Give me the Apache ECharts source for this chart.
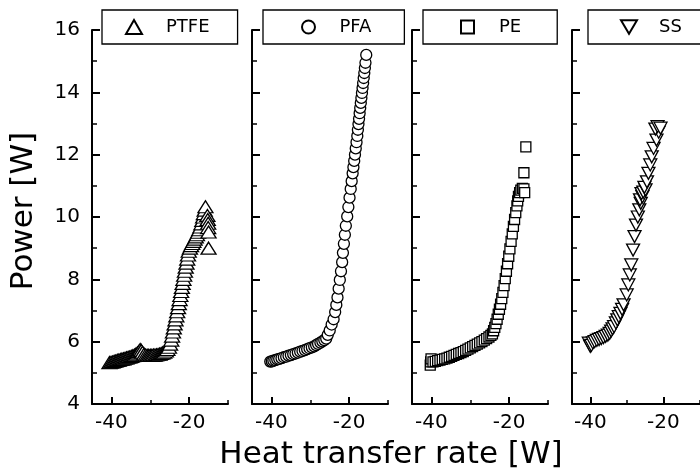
<!DOCTYPE html>
<html><head><meta charset="utf-8">
<script src="https://cdn.jsdelivr.net/npm/echarts@6/dist/echarts.min.js"></script>
<style>html,body{margin:0;padding:0;background:#fff}#c{width:700px;height:473px}</style>
</head><body><div id="c"></div><script>
// ---- data (Heat transfer rate [W], Power [W]) ----
const seriesNames = ['PTFE', 'PFA', 'PE', 'SS'];
const xTickLabels = [-40, -20];
const xMinorTicks = [-30, -10];
const xTitle = 'Heat transfer rate [W]';
const yTitle = 'Power [W]';

const ptfe = [[-40.5,5.33],[-40.1,5.34],[-39.7,5.35],[-39.3,5.37],[-38.9,5.38],[-38.5,5.4],[-38.1,5.41],[-37.7,5.43],[-37.3,5.44],[-36.9,5.45],[-36.5,5.47],[-36.1,5.48],[-35.7,5.5],[-35.3,5.51],[-34.9,5.53],[-34.5,5.55],[-34.1,5.57],[-33.7,5.6],[-33.3,5.64],[-32.9,5.69],[-32.6,5.75],[-32.3,5.72],[-32.0,5.66],[-31.6,5.6],[-31.2,5.57],[-30.8,5.56],[-30.4,5.56],[-30.0,5.56],[-29.6,5.56],[-29.2,5.57],[-28.8,5.57],[-28.4,5.58],[-28.0,5.59],[-27.6,5.6],[-27.2,5.62],[-26.8,5.64],[-26.4,5.66],[-26.0,5.7],[-25.6,5.75],[-25.2,5.82],[-24.9,5.92],[-24.6,6.05],[-24.38,6.18],[-24.16,6.31],[-23.94,6.44],[-23.73,6.57],[-23.51,6.7],[-23.29,6.83],[-23.07,6.96],[-22.85,7.09],[-22.65,7.22],[-22.45,7.35],[-22.26,7.48],[-22.06,7.61],[-21.86,7.74],[-21.67,7.87],[-21.47,8.0],[-21.27,8.13],[-21.08,8.26],[-20.88,8.39],[-20.68,8.52],[-20.49,8.65],[-20.29,8.78],[-20.1,8.9],[-19.8,9.0],[-19.5,9.08],[-19.2,9.15],[-18.9,9.22],[-18.6,9.29],[-18.3,9.36],[-18.0,9.43],[-17.7,9.51],[-17.4,9.59],[-17.1,9.68],[-16.85,9.78],[-16.6,9.89],[-16.4,10.0],[-16.2,10.11],[-16.0,10.22],[-15.8,10.33],[-15.3,10.05],[-15.2,9.92],[-15.1,9.8],[-15.1,9.66],[-15.0,9.52],[-15.0,9.0]];

const pfa = [[-40.3,5.36],[-39.9,5.37],[-39.5,5.39],[-39.0,5.41],[-38.5,5.43],[-38.0,5.45],[-37.4,5.47],[-36.8,5.5],[-36.2,5.52],[-35.6,5.55],[-35.0,5.57],[-34.4,5.6],[-33.8,5.62],[-33.2,5.65],[-32.6,5.68],[-32.0,5.7],[-31.4,5.73],[-30.8,5.76],[-30.2,5.79],[-29.6,5.82],[-29.0,5.85],[-28.5,5.89],[-28.0,5.93],[-27.4,5.97],[-26.9,6.01],[-26.4,6.05],[-25.9,6.1],[-25.5,6.22],[-25.0,6.36],[-24.5,6.55],[-24.0,6.72],[-23.6,6.95],[-23.3,7.18],[-23.0,7.42],[-22.7,7.7],[-22.4,7.98],[-22.1,8.26],[-21.8,8.55],[-21.6,8.85],[-21.35,9.14],[-21.1,9.43],[-20.85,9.72],[-20.5,10.02],[-20.2,10.32],[-19.9,10.62],[-19.6,10.9],[-19.35,11.15],[-19.1,11.4],[-18.9,11.6],[-18.7,11.8],[-18.5,12.0],[-18.3,12.2],[-18.1,12.4],[-17.9,12.6],[-17.75,12.8],[-17.6,12.98],[-17.45,13.15],[-17.3,13.33],[-17.15,13.5],[-17.0,13.66],[-16.85,13.82],[-16.7,13.98],[-16.55,14.14],[-16.4,14.3],[-16.25,14.46],[-16.1,14.62],[-15.95,14.78],[-15.8,14.95],[-15.6,15.2]];

const pe = [[-40.3,5.25],[-40.2,5.35],[-40.1,5.45],[-39.6,5.35],[-39.0,5.37],[-38.4,5.39],[-37.8,5.41],[-37.2,5.43],[-36.6,5.45],[-36.0,5.47],[-35.4,5.5],[-34.8,5.53],[-34.2,5.56],[-33.6,5.59],[-33.0,5.62],[-32.4,5.65],[-31.8,5.68],[-31.2,5.72],[-30.6,5.76],[-30.0,5.8],[-29.4,5.84],[-28.8,5.88],[-28.2,5.92],[-27.6,5.96],[-27.0,6.0],[-26.4,6.05],[-25.8,6.1],[-25.2,6.15],[-24.7,6.2],[-24.3,6.25],[-24.0,6.35],[-23.7,6.46],[-23.4,6.58],[-23.1,6.72],[-22.8,6.88],[-22.5,7.04],[-22.2,7.2],[-21.9,7.38],[-21.6,7.58],[-21.3,7.8],[-21.0,8.02],[-20.7,8.26],[-20.4,8.5],[-20.1,8.74],[-19.8,8.98],[-19.5,9.22],[-19.2,9.46],[-18.9,9.7],[-18.6,9.92],[-18.3,10.14],[-18.0,10.36],[-17.8,10.52],[-17.6,10.66],[-17.3,10.78],[-17.0,10.86],[-16.6,10.92],[-16.2,10.9],[-16.0,10.78],[-16.2,11.42],[-15.7,12.25]];

const ss = [[-40.4,5.95],[-40.0,5.85],[-39.7,5.88],[-39.3,5.96],[-38.8,6.0],[-38.2,6.04],[-37.6,6.07],[-37.0,6.1],[-36.4,6.13],[-35.8,6.17],[-35.2,6.21],[-34.7,6.27],[-34.3,6.34],[-33.9,6.41],[-33.5,6.48],[-33.0,6.6],[-32.6,6.7],[-32.2,6.8],[-31.75,6.91],[-31.3,7.04],[-30.9,7.18],[-30.05,7.5],[-29.6,7.82],[-29.2,8.14],[-28.8,8.46],[-28.3,8.94],[-27.9,9.37],[-27.5,9.74],[-27.0,10.0],[-26.6,10.23],[-26.2,10.44],[-26.4,10.55],[-25.75,10.65],[-26.0,10.75],[-25.5,10.8],[-24.9,10.87],[-25.2,10.95],[-24.5,11.13],[-24.1,11.4],[-23.6,11.67],[-23.2,11.93],[-22.7,12.2],[-21.9,12.47],[-21.3,12.72],[-22.2,12.82],[-21.6,12.9],[-20.8,12.85]];

const panelData = [ptfe, pfa, pe, ss];

// ---- chart ----
const FONT = '"DejaVu Sans", "Liberation Sans", Arial, sans-serif';
const chart = echarts.init(document.getElementById('c'), null, {renderer: 'canvas'});

const symbols = ['triangle', 'circle', 'rect', 'path://M0,0L20,0L10,17Z'];
const symbolSizes = [[15, 12], 11, 10, [13, 12]];
const legendLayout = [
  {left: 102, iw: 16, ih: 14, padding: [8, 28, 8, 23], textPad: 19},
  {left: 263, iw: 14, ih: 13, padding: [8, 33, 8, 38], textPad: 19},
  {left: 423, iw: 13, ih: 13, padding: [8, 36, 8, 37], textPad: 20},
  {left: 588, iw: 16, ih: 15, padding: [8, 40, 8, 32], textPad: 17}
];

const grids = [], xAxes = [], yAxes = [], series = [], legends = [];
for (let i = 0; i < 4; i++) {
  grids.push({left: 92 + 160 * i, top: 30, width: 136, height: 374, containLabel: false});
  const axisLine = {show: true, onZero: false, lineStyle: {color: '#000', width: 2}};
  xAxes.push({
    gridIndex: i, type: 'value', min: -45, max: -10, position: 'bottom',
    axisLine: axisLine,
    axisTick: {show: true, inside: true, length: 7, customValues: xTickLabels, lineStyle: {color: '#000', width: 2}},
    axisLabel: {show: true, customValues: xTickLabels, fontSize: 20, color: '#000', fontFamily: FONT, margin: 9},
    splitLine: {show: false}
  });
  xAxes.push({
    gridIndex: i, type: 'value', min: -45, max: -10, position: 'bottom',
    axisLine: {show: false},
    axisTick: {show: true, inside: true, length: 4, customValues: xMinorTicks, lineStyle: {color: '#000', width: 1.5}},
    axisLabel: {show: false},
    splitLine: {show: false}
  });
  yAxes.push({
    gridIndex: i, type: 'value', min: 4, max: 16, interval: 2,
    axisLine: axisLine,
    axisTick: {show: true, inside: true, length: 8, lineStyle: {color: '#000', width: 2}},
    minorTick: {show: true, splitNumber: 2, length: 5, lineStyle: {color: '#000', width: 1.5}},
    axisLabel: {show: i === 0, fontSize: 20, color: '#000', fontFamily: FONT, margin: 12},
    splitLine: {show: false}, minorSplitLine: {show: false}
  });
  series.push({
    name: seriesNames[i], type: 'scatter', xAxisIndex: 2 * i, yAxisIndex: i,
    data: panelData[i], symbol: symbols[i], symbolSize: symbolSizes[i],
    itemStyle: {color: '#fff', borderColor: '#000', borderWidth: 1.3, opacity: 1},
    emphasis: {disabled: true}, silent: true
  });
  const L = legendLayout[i];
  legends.push({
    left: L.left, top: 10, orient: 'horizontal',
    data: [seriesNames[i]], selectedMode: false,
    itemWidth: L.iw, itemHeight: L.ih, itemGap: 0,
    padding: L.padding,
    borderColor: '#000', borderWidth: 1.3, backgroundColor: '#fff',
    textStyle: {fontSize: 18, color: '#000', fontFamily: FONT, padding: [0, 0, 0, L.textPad]}
  });
}

chart.setOption({
  animation: false,
  backgroundColor: '#fff',
  grid: grids, xAxis: xAxes, yAxis: yAxes, series: series, legend: legends,
  graphic: [
    {type: 'text', x: 24, y: 211, rotation: Math.PI / 2,
     style: {text: yTitle, font: '31px "DejaVu Sans", sans-serif', fill: '#000', align: 'center', verticalAlign: 'middle', textAlign: 'center', textVerticalAlign: 'middle'}},
    {type: 'text', x: 391, y: 455,
     style: {text: xTitle, font: '31px "DejaVu Sans", sans-serif', fill: '#000', align: 'center', verticalAlign: 'middle', textAlign: 'center', textVerticalAlign: 'middle'}}
  ]
});
</script></body></html>
